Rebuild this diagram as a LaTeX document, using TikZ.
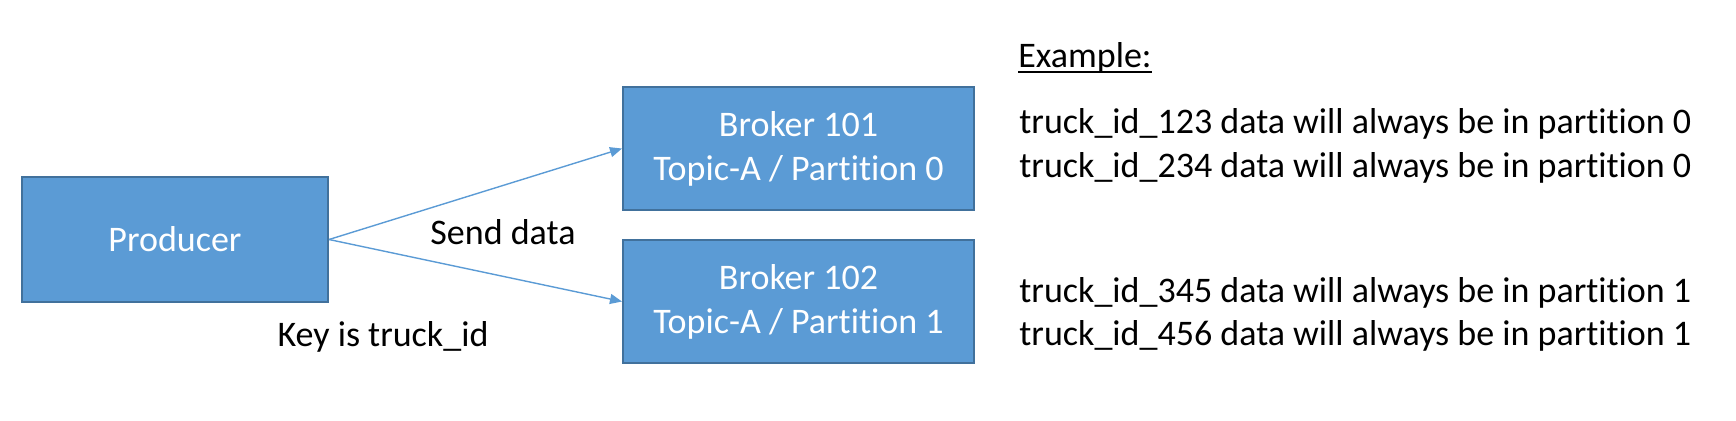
\documentclass[tikz,border=0pt]{standalone}
\usepackage{fontspec}
\setmainfont[Ligatures=NoCommon]{Carlito}
\usetikzlibrary{arrows.meta}
\definecolor{boxfill}{HTML}{5B9BD5}
\definecolor{boxline}{HTML}{41719C}
\definecolor{arrowcol}{HTML}{5B9BD5}
\tikzset{
  box/.style={draw=boxline, fill=boxfill, line width=1pt, text=white, align=center,
    font=\fontsize{18pt}{22pt}\selectfont, inner sep=0pt},
  conn/.style={draw=arrowcol, line width=0.7pt, -{Triangle[length=6pt,width=5pt]}},
  plain/.style={font=\fontsize{18pt}{22pt}\selectfont, inner sep=0pt, anchor=base west},
  lbl/.style={font=\fontsize{18pt}{22pt}\selectfont, inner sep=0pt, anchor=base}
}
\begin{document}
\begin{tikzpicture}[x=0.5pt, y=-0.5pt]
\useasboundingbox (0,0) rectangle (1736,420);
\node[box, minimum width=153pt, minimum height=62.5pt] (prod) at (175,239.5) {Producer};
\node[box, minimum width=175.5pt, minimum height=61.5pt] (b1) at (798.5,148.5) {Broker 101\\Topic-A / Partition 0};
\node[box, minimum width=175.5pt, minimum height=61.5pt] (b2) at (798.5,301.5) {Broker 102\\Topic-A / Partition 1};
\draw[conn] (prod.east) -- (b1.west);
\draw[conn] (prod.east) -- (b2.west);
\node[lbl] (send) at (503,244) {Send data};
\node[lbl] (key) at (383,346) {Key is truck\_id};
\node[plain] (ex) at (1018,67) {Example:};
\draw[line width=1.1pt] ([yshift=-2.6pt]ex.base west) -- ([yshift=-2.6pt]ex.base east);
\node[plain] (l1) at (1019,133) {truck\_id\_123 data will always be in partition 0};
\node[plain] (l2) at (1019,177) {truck\_id\_234 data will always be in partition 0};
\node[plain] (l3) at (1019,302) {truck\_id\_345 data will always be in partition 1};
\node[plain] (l4) at (1019,345) {truck\_id\_456 data will always be in partition 1};
\end{tikzpicture}
\end{document}
